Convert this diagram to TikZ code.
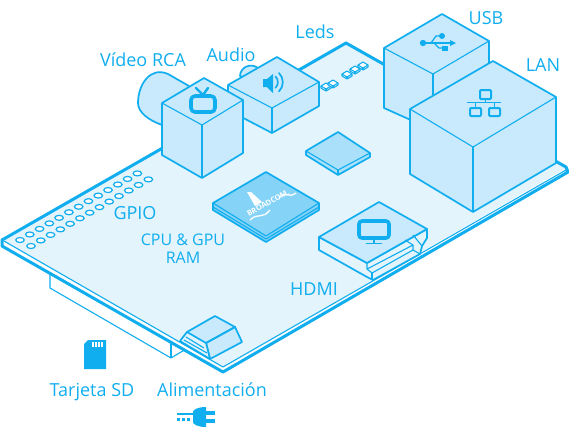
\documentclass[tikz,border=0pt]{standalone}
\usepackage{fontspec}
\setmainfont{Open Sans}
\usetikzlibrary{positioning}
\usetikzlibrary{shapes.geometric}
\definecolor{rpiblue}{HTML}{10ADEF}
\definecolor{rpiboard}{HTML}{E3F4FD}
\definecolor{rpibox}{HTML}{C8EAFC}
\definecolor{rpichip}{HTML}{85D3F6}
\tikzset{
lbl/.style={text=rpiblue, font=\fontsize{18}{18}\selectfont, inner sep=0pt, align=center},
thickedge/.style={draw=rpiblue, line width=3pt, line join=round},
edge/.style={draw=rpiblue, line width=1.7pt, line join=round},
fine/.style={draw=rpiblue, line width=1.1pt, line join=round},
box/.style={edge, fill=rpibox},
icon/.style={draw=rpiblue, line width=2pt, line join=round, line cap=round},
iconfill/.style={fill=rpiblue, draw=none},
hole/.style={draw=rpiblue, line width=1.2pt, fill=white, ellipse, inner sep=0pt, minimum width=8.5pt, minimum height=5pt}
}
\begin{document}
\begin{tikzpicture}[x=1pt, y=-1pt]
\useasboundingbox (0,0) rectangle (569,440);
% sd card holder under the board
\draw[fine, fill=white] (50,272) -- (50,288) -- (171,358) -- (186,349) -- (171,340) -- cycle;
\draw[fine] (171,343) -- (171,358);
% board
\fill[white] (2,240) -- (2,247) -- (223,373) -- (568,174) -- (568,167) -- (346,42) -- cycle;
\fill[rpiboard] (3,240) -- (346,43) -- (566,168) -- (223,367) -- cycle;
\draw[fine] (4,241) -- (223,367) -- (566,170);
\draw[thickedge] (2,246) -- (2,240) -- (346,43) -- (566,167) -- (568,172) -- (223,372) -- cycle;
% gpio pins
\foreach \i in {0,...,12}{
  \node[hole] (pinA\i) at (20+9.78*\i, 240-5.55*\i) {};
  \node[hole] (pinB\i) at (31+9.78*\i, 246-5.55*\i) {};
}
% leds
\foreach \x/\y in {326/86,333/83,347/74,355/69,363/65}{
  \draw[fine, fill=white] (\x-5,\y) -- (\x,\y-3) -- (\x+5,\y) -- (\x+5,\y+2) -- (\x,\y+5) -- (\x-5,\y+2) -- cycle;
  \draw[fine] (\x-5,\y) -- (\x,\y+3) -- (\x+5,\y);
  \draw[fine] (\x,\y+3) -- (\x,\y+5);
}
% small chip
\draw[edge, fill=rpichip!70] (338,132) -- (370,153) -- (370,157) -- (338,175) -- (306,155) -- (306,151) -- cycle;
\draw[fine] (306,151) -- (338,170) -- (370,153);
\draw[fine] (338,170) -- (338,175);
% cpu
\draw[edge, fill=rpichip] (266,172) -- (319,203) -- (319,210) -- (266,242) -- (213,210) -- (213,203) -- cycle;
\draw[fine] (213,203) -- (266,236) -- (319,203);
\draw[fine] (213,207) -- (266,239) -- (319,207);
\node[rotate=29, text=white, font=\bfseries\fontsize{7.6}{8}\selectfont, inner sep=0pt] (soc) at (268,203) {BROADCOM.};
\fill[white] (247,192) -- (251,192) -- (262,202) -- (255,206) -- cycle;
\draw[white, line width=1.3pt] (250,220) .. controls (258,212) and (262,220) .. (270,210);
\draw[white, line width=1.3pt] (279,198) .. controls (285,190) and (288,199) .. (296,193);
% hdmi
\draw[edge, fill=rpiboard] (319,237) -- (319,250) -- (367,277) -- (373,280) -- (420,254) -- (422,246) -- (427,238) -- (427,229) -- (367,263) -- cycle;
\fill[rpibox] (319,237) -- (379,202) -- (427,229) -- (367,263) -- cycle;
\draw[edge] (319,237) -- (379,202) -- (427,229) -- (367,263) -- cycle;
\draw[fine] (367,263) -- (367,269) -- (372,273) -- (413,250) -- (413,245) -- (405,240);
\draw[fine] (367,269) -- (413,245);
\draw[fine] (372,273) -- (372,280);
\draw[fine] (413,235) -- (422,246);
\draw[fine] (413,250) -- (420,254);
% power socket
\fill[rpibox] (187,332) -- (215,316) -- (235,327) -- (206,343) -- cycle;
\draw[edge, fill=rpibox] (206,343) -- (235,327) -- (242,342) -- (210,359) -- cycle;
\draw[edge, fill=rpiboard] (187,332) -- (180,341) -- (210,359) -- (206,343) -- cycle;
\draw[edge] (187,332) -- (215,316) -- (235,327) -- (206,343);
\draw[fine] (186,337) -- (204,348);
\draw[fine] (184,340) -- (207,353);
% audio
\draw[edge, fill=rpibox] (240,76) .. controls (240,68) and (250,62) .. (258,68) -- (250,80) -- cycle;
\draw[box] (277,57) -- (319,82) -- (319,106) -- (272,133) -- (228,110) -- (228,85) -- cycle;
\draw[fine] (228,85) -- (272,108) -- (319,82);
\draw[fine] (272,108) -- (272,133);
% video rca
\draw[edge, fill=rpibox] (189,86) -- (168,74) .. controls (150,66) and (138,85) .. (138,103) .. controls (138,112) and (148,120) .. (162,125) -- (180,110) -- cycle;
\draw[box] (204,78) -- (243,100) -- (243,153) -- (202,178) -- (162,155) -- (162,103) -- cycle;
\draw[fine] (162,103) -- (202,125) -- (243,100);
\draw[fine] (202,125) -- (202,178);
% usb
\draw[box] (442,14) -- (489,41) -- (489,100) -- (433,130) -- (384,108) -- (384,48) -- cycle;
\draw[fine] (384,48) -- (433,74) -- (489,41);
\draw[fine] (433,74) -- (433,100);
% lan
\draw[box] (493,61) -- (556,97) -- (556,163) -- (473,212) -- (410,174) -- (410,109) -- cycle;
\draw[fine] (410,109) -- (473,147) -- (556,97);
\draw[fine] (473,147) -- (473,212);
% icons
\draw[icon, line width=3.6pt, rounded corners=4pt] (191,96) rectangle (215,112);
\draw[icon, line width=2.4pt] (196,88) -- (203,95) -- (208,88);
\fill[iconfill] (263,79) -- (267,79) -- (273,74) -- (273,93) -- (267,87) -- (263,87) -- cycle;
\draw[icon, line width=1.7pt] (275.5,76.5) arc (-45:45:8);
\draw[icon, line width=1.7pt] (279,73) arc (-45:45:13);
\fill[iconfill] (423,43) circle (3.2);
\fill[iconfill] (442,36) circle (3);
\fill[iconfill] (442,45.5) rectangle (448,51);
\fill[iconfill] (456,43) -- (450,40) -- (450,46) -- cycle;
\draw[icon, line width=1.3pt, line cap=butt] (423,43) -- (452,43);
\draw[icon, line width=1.3pt, line cap=butt] (431,43) -- (436,36) -- (442,36);
\draw[icon, line width=1.3pt, line cap=butt] (434,43) -- (439,48) -- (445,48);
\draw[icon, rounded corners=1pt] (480,90) rectangle (491,99);
\draw[icon, rounded corners=1pt] (470,108) rectangle (481,116);
\draw[icon, rounded corners=1pt] (489,108) rectangle (500,116);
\draw[icon, line width=1.3pt, line cap=butt] (467,102.5) -- (501,102.5);
\draw[icon, line width=1.3pt, line cap=butt] (485.5,99) -- (485.5,102.5);
\draw[icon, line width=1.3pt, line cap=butt] (475.5,102.5) -- (475.5,108);
\draw[icon, line width=1.3pt, line cap=butt] (494.5,102.5) -- (494.5,108);
\draw[icon, line width=3.6pt, rounded corners=3pt] (359,221) rectangle (389,238);
\draw[icon, line width=2.4pt, line cap=butt] (374,238) -- (374,243);
\draw[icon, line width=1.8pt, line cap=butt] (366,243.5) -- (382,243.5);
\fill[iconfill] (88,340) -- (106,340) -- (106,369) -- (84,369) -- (84,344) -- cycle;
\foreach \x in {92,95,98,101}{ \fill[white] (\x,342) rectangle (\x+2,347); }
\fill[iconfill] (193,412) .. controls (193,410) and (197,407) .. (206,407) -- (206,427) .. controls (197,427) and (193,424) .. (193,422) -- cycle;
\fill[iconfill] (206,411) rectangle (215,415);
\fill[iconfill] (206,419) rectangle (215,423);
\fill[iconfill] (177,413) rectangle (193,415);
\foreach \x in {177,182,187}{ \fill[iconfill] (\x,418) rectangle (\x+3,420.5); }
% labels
\node[lbl] (rca) at (143,60) {Vídeo RCA};
\node[lbl] (audio) at (231,55) {Audio};
\node[lbl] (leds) at (315,32) {Leds};
\node[lbl] (usb) at (486,18) {USB};
\node[lbl] (lan) at (543,65) {LAN};
\node[lbl] (gpio) at (135,213) {GPIO};
\node[lbl, font=\fontsize{16}{18}\selectfont] (cpu) at (183,249) {CPU \& GPU\\RAM};
\node[lbl] (hdmi) at (314,289) {HDMI};
\node[lbl] (sd) at (92,392) {Tarjeta SD};
\node[lbl] (power) at (212,390) {Alimentación};
\end{tikzpicture}
\end{document}
